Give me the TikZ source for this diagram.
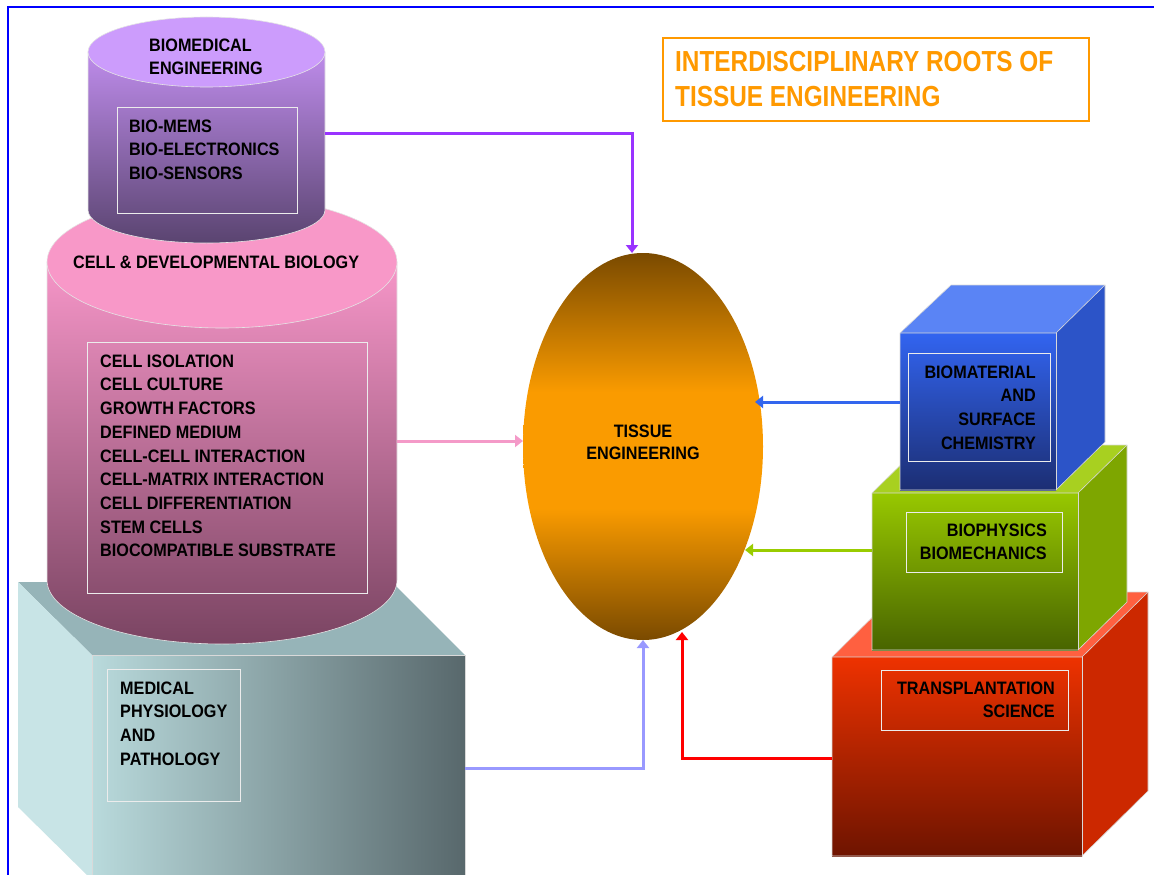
\documentclass[tikz,border=0pt]{standalone}
\usepackage{fontspec}
\setmainfont{Liberation Sans}
\newfontfamily\labfont[FakeStretch=0.9]{Liberation Sans}
\newfontfamily\titfont[FakeStretch=0.84]{Liberation Sans}
\usetikzlibrary{shapes.geometric,arrows.meta}
\definecolor{frameblue}{RGB}{0,0,255}
\definecolor{titor}{RGB}{255,153,0}
\definecolor{bmtop}{RGB}{204,156,252}
\definecolor{bmhi}{RGB}{190,140,235}
\definecolor{bmlo}{RGB}{90,68,112}
\definecolor{cbtop}{RGB}{248,152,200}
\definecolor{cbhi}{RGB}{246,150,200}
\definecolor{cblo}{RGB}{122,68,98}
\definecolor{gytop}{RGB}{150,180,184}
\definecolor{gyleft}{RGB}{200,228,230}
\definecolor{gyfl}{RGB}{185,218,220}
\definecolor{gyfr}{RGB}{88,104,108}
\definecolor{tedark}{RGB}{122,74,0}
\definecolor{teor}{RGB}{250,155,0}
\definecolor{butop}{RGB}{90,132,245}
\definecolor{buright}{RGB}{44,84,200}
\definecolor{buhi}{RGB}{50,100,240}
\definecolor{bulo}{RGB}{28,46,115}
\definecolor{grtop}{RGB}{168,208,32}
\definecolor{grright}{RGB}{126,166,0}
\definecolor{grhi}{RGB}{152,200,0}
\definecolor{grlo}{RGB}{72,100,0}
\definecolor{rdtop}{RGB}{255,96,64}
\definecolor{rdright}{RGB}{204,40,0}
\definecolor{rdhi}{RGB}{238,50,0}
\definecolor{rdlo}{RGB}{110,20,0}
\definecolor{cpurple}{RGB}{153,51,255}
\definecolor{cpink}{RGB}{244,154,200}
\definecolor{cblue}{RGB}{51,102,238}
\definecolor{cgreen}{RGB}{153,204,0}
\definecolor{clav}{RGB}{153,153,255}
\definecolor{cred}{RGB}{255,0,0}
\pgfdeclareverticalshading{teshade}{100bp}{color(0bp)=(tedark); color(25bp)=(tedark); color(42bp)=(teor); color(57bp)=(teor); color(75bp)=(tedark); color(100bp)=(tedark)}
\newcommand\lblfont{\labfont\bfseries\fontsize{18}{23.7}\selectfont}
\tikzset{
  lbl/.style={font=\lblfont, inner sep=0pt, align=left, anchor=north west, text=black},
  lblr/.style={font=\lblfont, inner sep=0pt, align=right, anchor=north east, text=black},
  inbox/.style={draw=white!85!gray, line width=0.8pt},
  edge/.style={draw=white!70!gray, line width=0.6pt},
  conn/.style={line width=3pt, -{Triangle[length=8pt,width=12pt]}},
}
\begin{document}
\begin{tikzpicture}[x=1pt,y=1pt]
\useasboundingbox (0,0) rectangle (1154,-875);
\clip (0,0) rectangle (1154,-875);

% ---------- medical box (gray) ----------
\fill[gytop] (18,-582) -- (92,-655) -- (465,-655) -- (392,-582) -- cycle;
\fill[gyleft] (18,-582) -- (92,-655) -- (92,-880) -- (18,-807) -- cycle;
\shade[left color=gyfl, right color=gyfr] (92,-655) rectangle (465,-880);
\draw[edge] (92,-655) -- (465,-655) -- (465,-880);
\draw[edge] (92,-655) -- (92,-880);
\draw[inbox] (107,-669) rectangle (240,-801);
\node[lbl] (med) at (120,-681.5) {MEDICAL\\PHYSIOLOGY\\AND\\PATHOLOGY};

% ---------- cell & developmental biology cylinder ----------
\shade[top color=cbhi, bottom color=cblo, draw=white!80!gray, line width=0.6pt]
  (47,-262) -- (47,-580) arc[start angle=180, end angle=360, x radius=175, y radius=64] -- (397,-262) -- cycle;
\fill[cbtop, draw=white!80!gray, line width=0.6pt] (222,-262) ellipse [x radius=175, y radius=66];
\draw[inbox] (87,-342) rectangle (367,-593);
\node[lbl] (cbtitle) at (73,-255.5) {CELL \& DEVELOPMENTAL BIOLOGY};
\node[lbl] (cblist) at (100,-354.5) {CELL ISOLATION\\CELL CULTURE\\GROWTH FACTORS\\DEFINED MEDIUM\\CELL-CELL INTERACTION\\CELL-MATRIX INTERACTION\\CELL DIFFERENTIATION\\STEM CELLS\\BIOCOMPATIBLE SUBSTRATE};

% ---------- biomedical engineering cylinder ----------
\shade[top color=bmhi, bottom color=bmlo, draw=white!80!gray, line width=0.6pt]
  (88,-52) -- (88,-210) arc[start angle=180, end angle=360, x radius=118.5, y radius=33] -- (325,-52) -- cycle;
\fill[bmtop, draw=white!80!gray, line width=0.6pt] (206.5,-52) ellipse [x radius=118.5, y radius=35];
\draw[inbox] (117,-107) rectangle (297,-213);
\node[lbl] (bmtitle) at (149,-38.5) {BIOMEDICAL\\ENGINEERING};
\node[lbl] (bmlist) at (129,-119.5) {BIO-MEMS\\BIO-ELECTRONICS\\BIO-SENSORS};

% ---------- title ----------
\draw[titor, line width=1.5pt] (663,-38) rectangle (1089,-121);
\node[font=\titfont\bfseries\fontsize{29}{35}\selectfont, text=titor, inner sep=0pt, align=left, anchor=north west] (title) at (675,-51.5) {INTERDISCIPLINARY ROOTS OF\\TISSUE ENGINEERING};

% ---------- tissue engineering ellipse ----------
\node[ellipse, minimum width=240pt, minimum height=387pt, inner sep=0pt, shading=teshade] (te) at (643,-446.5) {};
\node[font=\labfont\bfseries\fontsize{18}{22}\selectfont, align=center, inner sep=0pt, anchor=north] (tetext) at (643,-424.5) {TISSUE\\ENGINEERING};

% ---------- red cube ----------
\fill[rdtop] (832,-657) -- (898,-592) -- (1148,-592) -- (1082,-657) -- cycle;
\fill[rdright] (1082,-657) -- (1148,-592) -- (1148,-791) -- (1082,-856) -- cycle;
\shade[top color=rdhi, bottom color=rdlo] (832,-657) rectangle (1082,-856);
\draw[edge] (832,-856) -- (832,-657) -- (898,-592) -- (1148,-592) -- (1148,-791) -- (1082,-856) -- cycle;
\draw[edge] (832,-657) -- (1082,-657) -- (1148,-592);
\draw[edge] (1082,-657) -- (1082,-856);

% ---------- green cube ----------
\fill[grtop] (872,-493) -- (921,-445) -- (1127,-445) -- (1078,-493) -- cycle;
\fill[grright] (1078,-493) -- (1127,-445) -- (1127,-602) -- (1078,-650) -- cycle;
\shade[top color=grhi, bottom color=grlo] (872,-493) rectangle (1078,-650);
\draw[edge] (872,-650) -- (872,-493) -- (921,-445) -- (1127,-445) -- (1127,-602) -- (1078,-650) -- cycle;
\draw[edge] (872,-493) -- (1078,-493) -- (1127,-445);
\draw[edge] (1078,-493) -- (1078,-650);

% ---------- blue cube ----------
\fill[butop] (900,-333) -- (951,-285) -- (1105,-285) -- (1056,-333) -- cycle;
\fill[buright] (1056,-333) -- (1105,-285) -- (1105,-442) -- (1056,-490) -- cycle;
\shade[top color=buhi, bottom color=bulo] (900,-333) rectangle (1056,-490);
\draw[edge] (900,-490) -- (900,-333) -- (951,-285) -- (1105,-285) -- (1105,-442) -- (1056,-490) -- cycle;
\draw[edge] (900,-333) -- (1056,-333) -- (1105,-285);
\draw[edge] (1056,-333) -- (1056,-490);

\draw[inbox] (908,-353) rectangle (1050,-461);
\node[lblr] (bio) at (1036,-365.5) {BIOMATERIAL\\AND\\SURFACE\\CHEMISTRY};
\draw[inbox] (906,-512) rectangle (1062,-572);
\node[lblr] (bph) at (1047,-523.5) {BIOPHYSICS\\BIOMECHANICS};
\draw[inbox] (881,-670) rectangle (1068,-730);
\node[lblr] (tra) at (1055,-681.5) {TRANSPLANTATION\\SCIENCE};

% ---------- connector anchors ----------
\coordinate (bmR) at (325,-133);
\coordinate (teTop) at (632,-253);
\coordinate (cbR) at (397,-441);
\coordinate (teLeft) at (523,-441);
\coordinate (buL) at (900,-402);
\coordinate (teRa) at (755,-402);
\coordinate (grL) at (872,-550);
\coordinate (teRb) at (745,-550);
\coordinate (gyR) at (465,-768);
\coordinate (teBot) at (643,-640);
\coordinate (rdL) at (832,-758);
\coordinate (teBr) at (682,-632);

\draw[conn, cpurple] (bmR) -| (teTop);
\draw[conn, cpink] (cbR) -- (teLeft);
\draw[conn, cblue] (buL) -- (teRa);
\draw[conn, cgreen] (grL) -- (teRb);
\draw[conn, clav] (gyR) -| (teBot);
\draw[conn, cred] (rdL) -| (teBr);

% ---------- frame ----------
\draw[frameblue, line width=2.5pt] (1160,-7) -- (8,-7) -- (8,-880);
\end{tikzpicture}
\end{document}
